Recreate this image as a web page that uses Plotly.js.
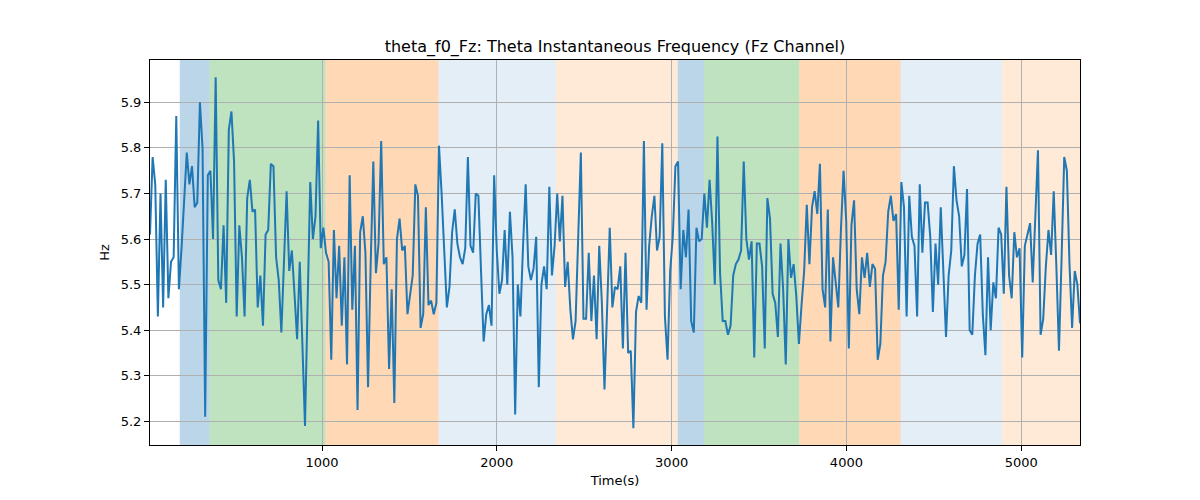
<!DOCTYPE html>
<html>
<head>
<meta charset="utf-8">
<script src="https://cdn.plot.ly/plotly-3.0.1.min.js"></script>
<style>html,body{margin:0;padding:0;background:#fff;}#chart{width:1200px;height:500px;}</style>
</head>
<body>
<div id="chart"></div>
<script>
// Sampling of the series (seconds)
const tStart = 15.7;
const tStep = 15.03;

// Theta instantaneous frequency values (Hz)
const freqHz = [
5.61, 5.78, 5.72, 5.43, 5.70, 5.45, 5.73, 5.47, 5.55, 5.56,
5.87, 5.49, 5.58, 5.68, 5.79, 5.72, 5.76, 5.67, 5.68, 5.90,
5.80, 5.21, 5.74, 5.75, 5.60, 5.955, 5.51, 5.49, 5.63, 5.46,
5.84, 5.88, 5.77, 5.43, 5.63, 5.56, 5.43, 5.69, 5.73, 5.66,
5.665, 5.45, 5.52, 5.41, 5.61, 5.62, 5.765, 5.76, 5.56, 5.51,
5.395, 5.55, 5.705, 5.53, 5.575, 5.48, 5.38, 5.55, 5.36, 5.19,
5.46, 5.725, 5.60, 5.65, 5.86, 5.58, 5.625, 5.57, 5.55, 5.335,
5.62, 5.47,
5.585, 5.41, 5.56, 5.325, 5.74, 5.445, 5.585, 5.225, 5.615, 5.65,
5.57, 5.275, 5.545, 5.77, 5.525, 5.59, 5.815, 5.545, 5.56, 5.315,
5.49, 5.24, 5.60, 5.645, 5.575, 5.585, 5.435, 5.48, 5.52, 5.72,
5.695, 5.405, 5.435, 5.67, 5.455, 5.465, 5.435, 5.46, 5.805, 5.70,
5.575, 5.45, 5.495, 5.615, 5.665, 5.59, 5.56, 5.545, 5.58, 5.78,
5.585, 5.57, 5.70, 5.695, 5.53, 5.375, 5.435, 5.455, 5.41, 5.74,
5.575, 5.48, 5.51, 5.62, 5.50, 5.66, 5.56, 5.215, 5.50, 5.43,
5.585, 5.72, 5.54,
5.51, 5.535, 5.605, 5.275, 5.50, 5.54, 5.49, 5.715, 5.52, 5.585,
5.70, 5.595, 5.695, 5.495, 5.55, 5.445, 5.38, 5.42, 5.605, 5.79,
5.425, 5.425, 5.57, 5.42, 5.52, 5.38, 5.585, 5.46, 5.27, 5.445,
5.625, 5.45, 5.495, 5.49, 5.54, 5.36, 5.57, 5.35, 5.355, 5.185,
5.44, 5.475, 5.46, 5.815, 5.445, 5.585, 5.65, 5.695, 5.575, 5.605,
5.81, 5.43, 5.335, 5.53, 5.605, 5.76, 5.77, 5.49, 5.62, 5.56,
5.665, 5.42, 5.395, 5.625, 5.595, 5.60, 5.70, 5.625, 5.73, 5.635,
5.50, 5.825,
5.525, 5.42, 5.42, 5.39, 5.41, 5.52, 5.545, 5.555, 5.575, 5.77,
5.60, 5.555, 5.595, 5.34, 5.59, 5.59, 5.54, 5.36, 5.69, 5.645,
5.48, 5.46, 5.385, 5.59, 5.49, 5.325, 5.60, 5.515, 5.545, 5.475,
5.37, 5.455, 5.53, 5.675, 5.545, 5.67, 5.705, 5.655, 5.765, 5.49,
5.45, 5.665, 5.375, 5.56, 5.51, 5.45, 5.62, 5.75, 5.64, 5.36,
5.63, 5.685, 5.49, 5.435, 5.56, 5.515, 5.57, 5.495, 5.545, 5.535,
5.335, 5.37, 5.52, 5.55, 5.66, 5.695, 5.64, 5.655, 5.445, 5.725,
5.67, 5.43, 5.695,
5.605, 5.585, 5.43, 5.72, 5.57, 5.68, 5.68, 5.605, 5.44, 5.59,
5.50, 5.67, 5.545, 5.385, 5.52, 5.575, 5.76, 5.685, 5.65, 5.54,
5.565, 5.71, 5.40, 5.39, 5.52, 5.59, 5.61, 5.435, 5.345, 5.56,
5.40, 5.505, 5.47, 5.625, 5.61, 5.48, 5.715, 5.52, 5.47, 5.615,
5.56, 5.58, 5.34, 5.585, 5.61, 5.635, 5.505, 5.635, 5.795, 5.39,
5.425, 5.54, 5.62, 5.565, 5.705, 5.54, 5.355, 5.56, 5.78, 5.75,
5.545, 5.405, 5.53, 5.50, 5.415
];

// Shaded stage intervals (seconds)
const stageStarts = [186, 357, 1020, 1666, 2337, 3035, 3186, 3730, 4310, 4890];
const stageEnds   = [357, 1020, 1666, 2337, 3035, 3186, 3730, 4310, 4890, 5400];
const stageColors = [
  'rgba(31,119,180,0.3)', 'rgba(44,160,44,0.3)', 'rgba(255,127,14,0.3)',
  'rgba(31,119,180,0.12)', 'rgba(255,127,14,0.16)',
  'rgba(31,119,180,0.3)', 'rgba(44,160,44,0.3)', 'rgba(255,127,14,0.3)',
  'rgba(31,119,180,0.12)', 'rgba(255,127,14,0.16)'
];

const xTicks = [1000, 2000, 3000, 4000, 5000];
const yTicks = [5.2, 5.3, 5.4, 5.5, 5.6, 5.7, 5.8, 5.9];

const timeS = freqHz.map((_, i) => tStart + i * tStep);

const shapes = stageStarts.map((s, i) => ({
  type: 'rect', xref: 'x', yref: 'paper',
  x0: s, x1: stageEnds[i], y0: 0, y1: 1,
  fillcolor: stageColors[i], line: {width: 0}, layer: 'below'
}));

const font = {family: 'DejaVu Sans, sans-serif', size: 13, color: '#000'};

Plotly.newPlot('chart', [{
  x: timeS, y: freqHz, type: 'scatter', mode: 'lines',
  line: {color: '#1f77b4', width: 2}, hoverinfo: 'x+y'
}], {
  width: 1200, height: 500,
  margin: {l: 150, r: 120, t: 60, b: 55},
  paper_bgcolor: '#fff', plot_bgcolor: 'rgba(0,0,0,0)',
  showlegend: false,
  font: font,
  title: {text: 'theta_f0_Fz: Theta Instantaneous Frequency (Fz Channel)',
          font: {family: 'DejaVu Sans, sans-serif', size: 16, color: '#000'},
          x: 0.5125, xanchor: 'center', y: 0.908, yanchor: 'middle'},
  xaxis: {
    range: [timeS[0], timeS[timeS.length - 1]],
    tickvals: xTicks, ticktext: xTicks.map(String),
    showgrid: true, gridcolor: '#b0b0b0', gridwidth: 1,
    zeroline: false, showline: true, linecolor: '#000', linewidth: 1, mirror: true,
    ticks: 'outside', ticklen: 5, tickcolor: '#000', tickfont: font,
    title: {text: 'Time(s)', font: font, standoff: 7}, automargin: false
  },
  yaxis: {
    range: [5.148, 5.993],
    tickvals: yTicks, ticktext: yTicks.map(v => v.toFixed(1)),
    showgrid: true, gridcolor: '#b0b0b0', gridwidth: 1,
    zeroline: false, showline: true, linecolor: '#000', linewidth: 1, mirror: true,
    ticks: 'outside', ticklen: 5, tickcolor: '#000', tickfont: font,
    title: {text: 'Hz', font: font, standoff: 8}, automargin: false
  },
  shapes: shapes
}, {displayModeBar: false, staticPlot: true});
</script>
</body>
</html>
